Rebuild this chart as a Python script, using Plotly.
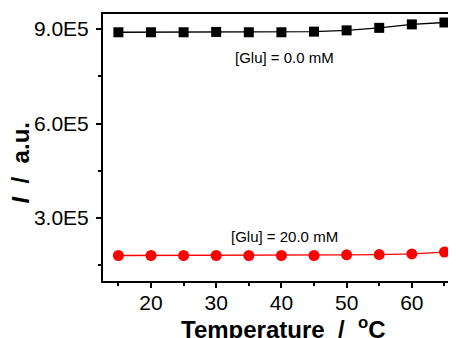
import plotly.graph_objects as go

temperature = [15, 20, 25, 30, 35, 40, 45, 50, 55, 60, 65]
intensity_glu0 = [8.90e5, 8.90e5, 8.90e5, 8.91e5, 8.90e5, 8.90e5, 8.92e5, 8.96e5, 9.04e5, 9.15e5, 9.21e5]
intensity_glu20 = [1.81e5, 1.81e5, 1.81e5, 1.81e5, 1.81e5, 1.81e5, 1.81e5, 1.83e5, 1.84e5, 1.86e5, 1.92e5]
ytick_vals = [3.0e5, 6.0e5, 9.0e5]
ytick_text = ["3.0E5", "6.0E5", "9.0E5"]
labels = ["[Glu] = 0.0 mM", "[Glu] = 20.0 mM"]
x_title = "<b>Temperature  /  <sup>o</sup>C</b>"
y_title = "<b><i>I</i>  /  a.u.</b>"

FONT = "Liberation Sans, Arial, sans-serif"

fig = go.Figure()
fig.add_trace(go.Scatter(
    x=temperature, y=intensity_glu0, mode="lines+markers",
    line=dict(color="black", width=1.3),
    marker=dict(symbol="square", size=10, color="black"),
    showlegend=False, cliponaxis=False))
fig.add_trace(go.Scatter(
    x=temperature, y=intensity_glu20, mode="lines+markers",
    line=dict(color="red", width=1.3),
    marker=dict(symbol="circle", size=11, color="red"),
    showlegend=False, cliponaxis=False))

fig.add_annotation(x=40.5, y=intensity_glu0[5], text=labels[0], showarrow=False,
                   yshift=-25, font=dict(family=FONT, size=15, color="black"))
fig.add_annotation(x=40.5, y=intensity_glu20[5], text=labels[1], showarrow=False,
                   yshift=19, font=dict(family=FONT, size=15, color="black"))

# axis titles placed as annotations (paper coordinates)
fig.add_annotation(xref="paper", yref="paper", x=0.499, y=-0.175, text=x_title,
                   showarrow=False, xanchor="center", yanchor="middle",
                   font=dict(family=FONT, size=24, color="black"))
fig.add_annotation(xref="paper", yref="paper", x=-0.226, y=0.442, text=y_title,
                   showarrow=False, xanchor="center", yanchor="middle", textangle=-90,
                   font=dict(family=FONT, size=24, color="black"))

fig.update_layout(
    width=456, height=338,
    margin=dict(l=95, r=0, t=6, b=65, autoexpand=False),
    paper_bgcolor="white", plot_bgcolor="white",
    font=dict(family=FONT, color="black"),
)
fig.update_xaxes(
    range=[12.64, 68.0], tickmode="linear", tick0=0, dtick=10, automargin=False,
    showgrid=False, zeroline=False,
    showline=True, linecolor="black", linewidth=2, mirror=True,
    ticks="outside", ticklen=5, tickwidth=1.5, tickcolor="black",
    minor=dict(ticks="outside", ticklen=3, tickwidth=1.5, tickcolor="black", dtick=5, tick0=0),
    tickfont=dict(family=FONT, size=21), ticklabelstandoff=-3,
)
fig.update_yaxes(
    range=[1.0e5, 9.48e5], tickmode="array", tickvals=ytick_vals, ticktext=ytick_text,
    automargin=False,
    showgrid=False, zeroline=False,
    showline=True, linecolor="black", linewidth=2, mirror=False,
    ticks="outside", ticklen=5, tickwidth=1.5, tickcolor="black",
    minor=dict(ticks="outside", ticklen=3, tickwidth=1.5, tickcolor="black",
               tickmode="array", tickvals=[1.5e5, 4.5e5, 7.5e5]),
    tickfont=dict(family=FONT, size=21), ticklabelstandoff=3,
)

fig.write_html("out.html")
